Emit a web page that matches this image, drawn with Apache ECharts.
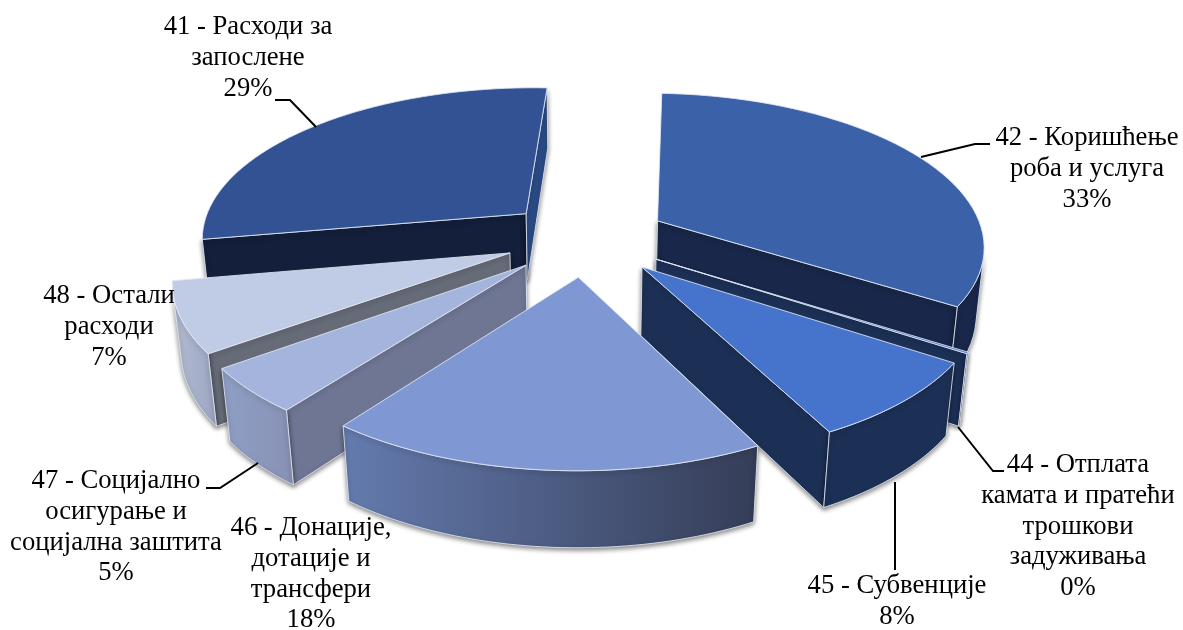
<!DOCTYPE html>
<html><head><meta charset="utf-8">
<script src="https://cdn.jsdelivr.net/npm/echarts@6/dist/echarts.min.js"></script>
<style>html,body{margin:0;background:#fff}#c{width:1183px;height:630px}</style>
</head><body><div id="c"></div>
<script>
var categories = ["42 - Коришћење\nроба и услуга","44 - Отплата\nкамата и пратећи\nтрошкови\nзадуживања","45 - Субвенције","46 - Донације,\nдотације и\nтрансфери","47 - Социјално\nосигурање и\nсоцијална заштита","48 - Остали\nрасходи","41 - Расходи за\nзапослене"];
var values = [33.5,0.15,8.22,18,4.67,7.29,28.68];
var explode = [83,82.9,82.6,82.7,82.3,81.9,82.1];

var paintOrder = [6,0,5,1,4,2,3];
var topColors = ['#3B61A8','#4674CC','#4674CC','#7F98D3','#A5B4DC','#C0CCE6','#325293'];
var startWall = ['#18274A','#1C3056','#1C3056','#4E5F88','#6E7694','#666B78','#131F3B'];
var endWall = ['#18274A','#1C3056','#1C3056','#4E5F88','#6E7694','#666B78','#2B4A85'];
var arcColors = [['#18274A','#18274A'],['#1C3056','#1C3056'],['#1C3056','#1C3056'],['#647BAE','#353D57'],['#909FC6','#8791B4'],['#B4BCD3','#9CA6C2'],['#131F3B','#131F3B']];

// label text boxes and leader lines, in page pixels
var labelPos = [[1087,123],[1078,450],[897,571],[311,513],[116,466],[109,281],[248,12]];
var leaders = [[[921,157],[975,144],[990,144]],[[958,427],[993,471],[1004,471]],[[895,482],[895,570]],null,[[258,463],[220,488],[206,488]],null,[[275,100],[290,100],[316,127]]];

// camera fitted to the picture
var cx = 585.7, cy = 305.5, F = 1901, D = 1958, tilt = 0.517, rot = 0.048, height = 78.4, R = 330;
var total = values.reduce(function (s, v) { return s + v; }, 0);

var angles = [];
var acc = 0;
values.forEach(function (v) {
  var s = (acc / total) * 2 * Math.PI + rot;
  acc += v;
  angles.push([s, (acc / total) * 2 * Math.PI + rot]);
});

function pt(i, ang, r, z) {
  var m = (angles[i][0] + angles[i][1]) / 2;
  var X = explode[i] * Math.sin(m) + r * Math.sin(ang);
  var Y = -explode[i] * Math.cos(m) - r * Math.cos(ang);
  var c = Math.cos(tilt), s = Math.sin(tilt);
  var d = D - (Y * c + z * s);
  return [cx + (F * X) / d, cy - (F * (z * c - Y * s)) / d];
}

function area(q) {
  var s = 0;
  for (var k = 0; k < q.length; k++) {
    var m = q[(k + 1) % q.length];
    s += q[k][0] * m[1] - m[0] * q[k][1];
  }
  return s;
}

function sliceEls(i) {
  var a = angles[i], N = 48, els = [];
  var edge = 'rgba(225,232,245,0.85)';
  function push(q, fill) {
    els.push({
      type: 'polygon', silent: true, shape: { points: q },
      style: { fill: fill, stroke: edge, lineWidth: 1, lineJoin: 'round', shadowBlur: 5, shadowColor: 'rgba(0,0,0,0.5)', shadowOffsetY: 2 },
    });
  }
  function wall(ang, fill, sign) {
    var q = [pt(i, 0, 0, height), pt(i, ang, R, height), pt(i, ang, R, 0), pt(i, 0, 0, 0)];
    if (area(q) * sign > 0) push(q, fill);
  }
  wall(a[0], startWall[i], -1);
  wall(a[1], endWall[i], 1);
  var upper = [], lower = [];
  var arcFill = new echarts.graphic.LinearGradient(0, 0, 1, 0, [
    { offset: 0, color: arcColors[i][0] },
    { offset: 1, color: arcColors[i][1] },
  ]);
  function flush() {
    if (upper.length > 1) push(upper.concat(lower.reverse()), arcFill);
    upper = [];
    lower = [];
  }
  for (var g = 0; g < N; g++) {
    var a0 = a[0] + ((a[1] - a[0]) * g) / N, a1 = a[0] + ((a[1] - a[0]) * (g + 1)) / N;
    var t0 = pt(i, a0, R, height), t1 = pt(i, a1, R, height), b0 = pt(i, a0, R, 0), b1 = pt(i, a1, R, 0);
    if (area([t0, t1, b1, b0]) < 0) {
      if (!upper.length) {
        upper.push(t0);
        lower.push(b0);
      }
      upper.push(t1);
      lower.push(b1);
    } else flush();
  }
  flush();
  var tp = [pt(i, 0, 0, height)];
  for (g = 0; g <= N; g++) tp.push(pt(i, a[0] + ((a[1] - a[0]) * g) / N, R, height));
  els.push({
    type: 'polygon', silent: true, shape: { points: tp },
    style: { fill: topColors[i], stroke: edge, lineWidth: 1, lineJoin: 'round' },
  });
  return els;
}

function labelEls(i) {
  var els = [];
  if (leaders[i]) {
    els.push({ type: 'polyline', silent: true, shape: { points: leaders[i] }, style: { fill: 'none', stroke: '#000', lineWidth: 2 } });
  }
  els.push({
    type: 'text', silent: true, x: labelPos[i][0], y: labelPos[i][1],
    style: {
      text: categories[i] + '\n' + Math.round((values[i] / total) * 100) + '%',
      font: '26.67px "Liberation Serif"', fill: '#000', align: 'center', verticalAlign: 'top', lineHeight: 30.7,
    },
  });
  return { type: 'group', children: els };
}

var chart = echarts.init(document.getElementById('c'));
chart.setOption({
  animation: false,
  series: [
    {
      type: 'custom', coordinateSystem: 'none',
      data: paintOrder.map(function (i) { return [i]; }),
      renderItem: function (p, api) { return { type: 'group', children: sliceEls(api.value(0)) }; },
    },
    {
      type: 'custom', coordinateSystem: 'none', z: 5,
      data: categories.map(function (c, i) { return [i]; }),
      renderItem: function (p, api) { return labelEls(api.value(0)); },
    },
  ],
});
</script></body></html>
